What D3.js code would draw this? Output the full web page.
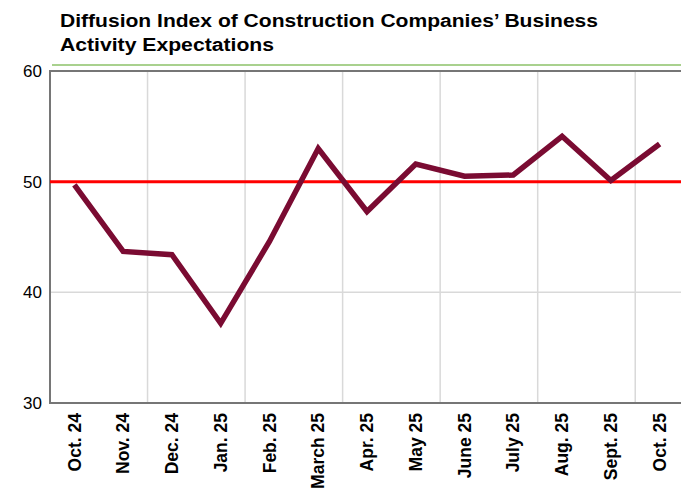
<!DOCTYPE html>
<html>
<head>
<meta charset="utf-8">
<script src="https://cdn.jsdelivr.net/npm/d3@7"></script>
<style>
  body { margin: 0; background: #fff; }
  text { font-family: "Liberation Sans", Arial, sans-serif; }
</style>
</head>
<body>
<svg id="chart" width="681" height="499"></svg>
<script>
// data
const months = ["Oct. 24", "Nov. 24", "Dec. 24", "Jan. 25", "Feb. 25", "March 25", "Apr. 25",
    "May 25", "June 25", "July 25", "Aug. 25", "Sept. 25", "Oct. 25"];
const index = [49.7, 43.7, 43.4, 37.2, 44.6, 53.0, 47.3, 51.6, 50.5, 50.6, 54.1, 50.1, 53.4];
const yTicks = [30, 40, 50, 60];
const threshold = 50;

const svg = d3.select("#chart");
const plotLeft = 50, plotRight = 684, plotTop = 71, plotBottom = 403;

let x = d3.scaleBand().domain(months).range([plotLeft, plotRight]);
let y = d3.scaleLinear().domain([30, 60]).range([plotBottom, plotTop]);

// title
svg.append("text")
    .attr("x", 60).attr("y", 27)
    .attr("font-size", 18).attr("font-weight", "bold")
    .attr("textLength", 538).attr("lengthAdjust", "spacingAndGlyphs")
    .text("Diffusion Index of Construction Companies\u2019 Business");
svg.append("text")
    .attr("x", 60).attr("y", 51)
    .attr("font-size", 18).attr("font-weight", "bold")
    .attr("textLength", 214).attr("lengthAdjust", "spacingAndGlyphs")
    .text("Activity Expectations");

// green rule under the title
svg.append("line")
    .attr("x1", 52).attr("x2", 681)
    .attr("y1", 65).attr("y2", 65)
    .attr("stroke", "#a9d18e").attr("stroke-width", 2);

// vertical grid every two months
let grid = svg.append("g");
months.forEach(function (m, i) {
    if (i > 0 && i % 2 === 0) {
        grid.append("line")
            .attr("x1", x(m)).attr("x2", x(m))
            .attr("y1", plotTop).attr("y2", plotBottom)
            .attr("stroke", "#d9d9d9").attr("stroke-width", 1.5);
    }
});
// horizontal grid
yTicks.forEach(function (t) {
    grid.append("line")
        .attr("x1", plotLeft).attr("x2", plotRight)
        .attr("y1", y(t)).attr("y2", y(t))
        .attr("stroke", "#d9d9d9").attr("stroke-width", 1.5);
});

// frame
svg.append("rect")
    .attr("x", plotLeft).attr("y", plotTop)
    .attr("width", plotRight - plotLeft).attr("height", plotBottom - plotTop)
    .attr("fill", "none").attr("stroke", "#767676").attr("stroke-width", 2);

// y axis labels
let yAxis = svg.append("g")
    .attr("transform", "translate(" + (plotLeft - 8) + ",0)")
    .call(d3.axisLeft(y).tickValues(yTicks).tickSize(0).tickPadding(0));
yAxis.select(".domain").remove();
yAxis.selectAll("text")
    .attr("font-size", 17).attr("fill", "#000")
    .style("font-family", "'Liberation Sans', Arial, sans-serif");

// x axis labels
let xAxis = svg.append("g")
    .attr("transform", "translate(0," + plotBottom + ")")
    .call(d3.axisBottom(x).tickSize(0).tickPadding(0));
xAxis.select(".domain").remove();
xAxis.selectAll("text")
    .attr("font-size", 17.5).attr("font-weight", "bold").attr("fill", "#000")
    .style("font-family", "'Liberation Sans', Arial, sans-serif")
    .attr("text-anchor", "end")
    .attr("dy", "0.35em")
    .attr("transform", "translate(0,10) rotate(-90)")
    .attr("x", 0).attr("y", 0);

// threshold line at 50
svg.append("line")
    .attr("x1", plotLeft).attr("x2", plotRight)
    .attr("y1", y(threshold)).attr("y2", y(threshold))
    .attr("stroke", "#ff0000").attr("stroke-width", 3);

// index line
let line = d3.line()
    .x(function (d, i) { return x(months[i]) + x.bandwidth() / 2; })
    .y(function (d) { return y(d); });

svg.append("path")
    .datum(index)
    .attr("d", line)
    .attr("fill", "none")
    .attr("stroke", "#7a0b32")
    .attr("stroke-width", 5.5)
    .attr("stroke-linejoin", "miter");
</script>
</body>
</html>
